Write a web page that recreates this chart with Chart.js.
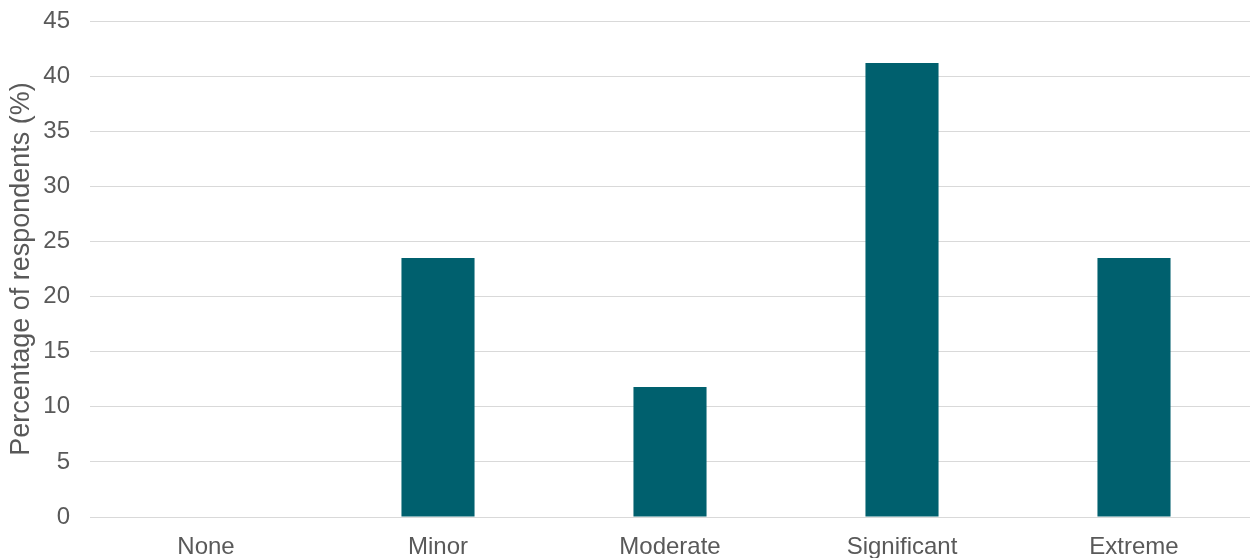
<!DOCTYPE html>
<html>
<head>
<meta charset="utf-8">
<script src="https://cdn.jsdelivr.net/npm/chart.js@4/dist/chart.umd.min.js"></script>
<style>
  html, body { margin: 0; padding: 0; background: #ffffff; }
  #wrap { width: 1251px; height: 558px; position: relative; }
</style>
</head>
<body>
<div id="wrap"><canvas id="chart"></canvas></div>
<script>
// Severity categories and share of respondents in each
const categories = ['None', 'Minor', 'Moderate', 'Significant', 'Extreme'];
const percentages = [0, 23.5, 11.8, 41.2, 23.5];
const yTicks = [0, 5, 10, 15, 20, 25, 30, 35, 40, 45];
const yTitle = 'Percentage of respondents (%)';

const textColor = '#595959';
const gridColor = '#d9d9d9';
const barColor = '#00606e';
const family = '"Liberation Sans", Arial, sans-serif';
const tickFont = { family: family, size: 24 };
const titleFont = { family: family, size: 27 };

new Chart(document.getElementById('chart'), {
  type: 'bar',
  data: {
    labels: categories,
    datasets: [{
      data: percentages,
      backgroundColor: barColor,
      borderWidth: 0,
      categoryPercentage: 1,
      barPercentage: 0.315
    }]
  },
  options: {
    responsive: true,
    maintainAspectRatio: false,
    animation: false,
    layout: { padding: { top: 21, right: 1, left: 0, bottom: 0 } },
    plugins: { legend: { display: false }, tooltip: { enabled: false } },
    scales: {
      x: {
        grid: { display: false, drawTicks: false },
        border: { display: false },
        ticks: { color: textColor, font: tickFont, padding: 16, maxRotation: 0 },
        afterFit: (s) => { s.height = 41; }
      },
      y: {
        min: 0,
        max: 45,
        afterBuildTicks: (s) => { s.ticks = yTicks.map(v => ({ value: v })); },
        // invisible tick marks keep the labels clear of the plot edge
        grid: { color: gridColor, lineWidth: 1, drawTicks: true, tickLength: 20, tickColor: 'rgba(0,0,0,0)' },
        border: { display: false },
        ticks: { color: textColor, font: tickFont, padding: 0 },
        title: {
          display: true,
          text: yTitle,
          color: textColor,
          font: titleFont,
          padding: { top: 5, bottom: 0 }
        },
        afterFit: (s) => { s.width = 90; }
      }
    }
  }
});
</script>
</body>
</html>
